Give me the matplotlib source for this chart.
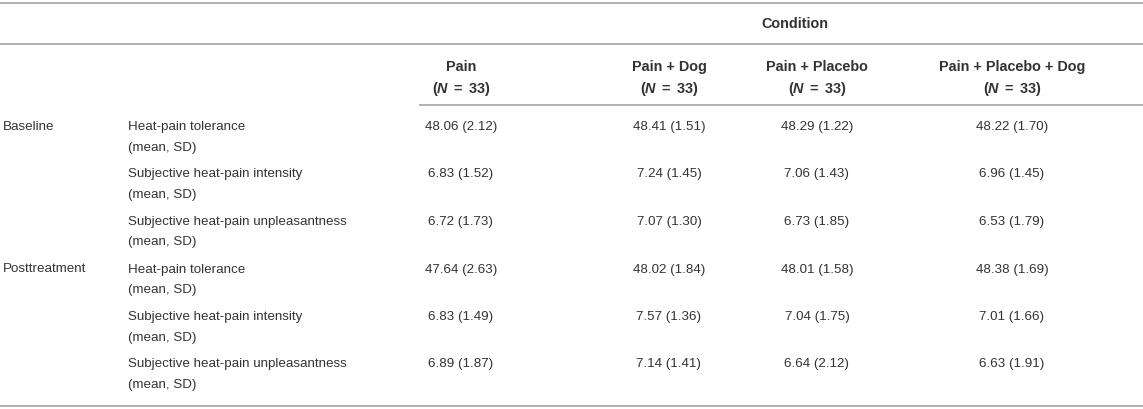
import matplotlib
matplotlib.use("Agg")
import matplotlib.pyplot as plt

plt.rcParams['font.family'] = ['Liberation Sans', 'DejaVu Sans']
plt.rcParams['mathtext.fontset'] = 'custom'
plt.rcParams['mathtext.rm'] = 'Liberation Sans'
plt.rcParams['mathtext.it'] = 'Liberation Sans:italic'
plt.rcParams['mathtext.bf'] = 'Liberation Sans:bold'
plt.rcParams['mathtext.bfit'] = 'Liberation Sans:bold:italic'

# ---- data ----
group_header = "Condition"
conditions = ["Pain", "Pain + Dog", "Pain + Placebo", "Pain + Placebo + Dog"]
n_per_condition = [33, 33, 33, 33]
phases = ["Baseline", "Posttreatment"]
measures = ["Heat-pain tolerance", "Subjective heat-pain intensity",
            "Subjective heat-pain unpleasantness"]
measure_suffix = "(mean, SD)"

baseline_mean = [[48.06, 48.41, 48.29, 48.22],
                 [6.83, 7.24, 7.06, 6.96],
                 [6.72, 7.07, 6.73, 6.53]]
baseline_sd = [[2.12, 1.51, 1.22, 1.70],
               [1.52, 1.45, 1.43, 1.45],
               [1.73, 1.30, 1.85, 1.79]]
post_mean = [[47.64, 48.02, 48.01, 48.38],
             [6.83, 7.57, 7.04, 7.01],
             [6.89, 7.14, 6.64, 6.63]]
post_sd = [[2.63, 1.84, 1.58, 1.69],
           [1.49, 1.36, 1.75, 1.66],
           [1.87, 1.41, 2.12, 1.91]]

# ---- layout (pixel coordinates, y downward) ----
W, H = 1143, 409
fig = plt.figure(figsize=(W / 100, H / 100), dpi=100)
ax = fig.add_axes([0, 0, 1, 1])
ax.set_xlim(0, W)
ax.set_ylim(H, 0)
ax.axis('off')

txt = '#333333'
line_c = '#ababab'
fs = 9.6
hfs = 10.4

col_x = [461, 669, 817, 1012]
phase_x = 3
measure_x = 128
row_y0 = 127
row_step = 47.5
sub_dy = 20.5

# rules
ax.plot([0, W], [3, 3], color=line_c, lw=1.3)
ax.plot([0, W], [44, 44], color=line_c, lw=1.3)
ax.plot([420, W], [105, 105], color=line_c, lw=1.3)
ax.plot([0, W], [406, 406], color=line_c, lw=1.3)

ax.text(795, 24, group_header, ha='center', va='center', fontsize=hfs,
        fontweight='bold', color=txt)
for x, c, n in zip(col_x, conditions, n_per_condition):
    ax.text(x, 67, c, ha='center', va='center', fontsize=hfs,
            fontweight='bold', color=txt)
    ax.text(x, 89, r"$\mathbf{(}\mathbfit{N}\mathbf{\ =\ %d)}$" % n,
            ha='center', va='center', fontsize=hfs, color=txt)

all_means = [baseline_mean, post_mean]
all_sds = [baseline_sd, post_sd]
r = 0
for p, phase in enumerate(phases):
    for m, meas in enumerate(measures):
        y = row_y0 + r * row_step
        if m == 0:
            ax.text(phase_x, y, phase, ha='left', va='center', fontsize=fs,
                    color=txt)
        ax.text(measure_x, y, meas, ha='left', va='center', fontsize=fs,
                color=txt)
        ax.text(measure_x, y + sub_dy, measure_suffix, ha='left',
                va='center', fontsize=fs, color=txt)
        for k, x in enumerate(col_x):
            ax.text(x, y, f"{all_means[p][m][k]:.2f} ({all_sds[p][m][k]:.2f})",
                    ha='center', va='center', fontsize=fs, color=txt)
        r += 1

fig.savefig("out.png", dpi=100)
